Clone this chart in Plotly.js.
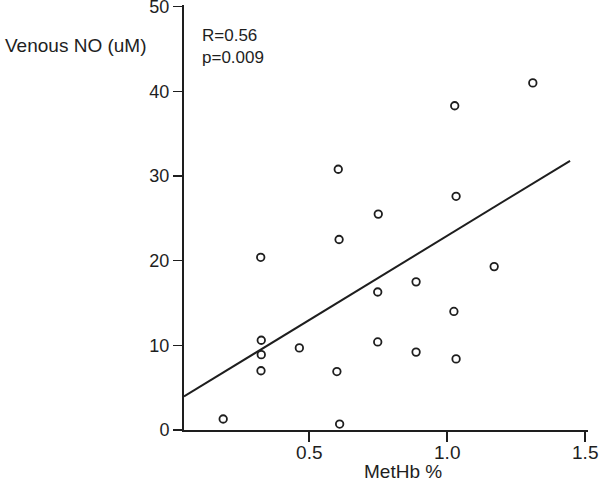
<!DOCTYPE html>
<html>
<head>
<meta charset="utf-8">
<script src="https://cdn.plot.ly/plotly-3.0.1.min.js"></script>
<style>html,body{margin:0;padding:0;background:#fff;}#chart{width:601px;height:483px;}</style>
</head>
<body>
<div id="chart"></div>
<script>
// MetHb % (x) and Venous NO (uM) (y)
var methb = [0.605, 1.032, 0.750, 0.608, 0.324, 0.887, 0.748, 1.024, 0.326, 0.748, 0.464,
             0.326, 0.887, 1.032, 0.325, 0.600, 0.188, 0.610, 1.310, 1.027, 1.170];
var venousNO = [30.8, 27.6, 25.5, 22.5, 20.4, 17.5, 16.3, 14.0, 10.6, 10.4, 9.7,
                8.9, 9.2, 8.4, 7.0, 6.9, 1.3, 0.7, 41.0, 38.3, 19.3];
// regression line end points
var fitX = [0.046, 1.445];
var fitY = [3.96, 31.8];
var xTicks = [0.5, 1.0, 1.5];
var xTickText = ['0.5', '1.0', '1.5'];
var yTicks = [0, 10, 20, 30, 40, 50];
var statsText = ['R=0.56', 'p=0.009'];

var ink = '#1e1e1e';
var font = 'Liberation Sans, Arial, sans-serif';

var traces = [
  {x: fitX, y: fitY, mode: 'lines', type: 'scatter', line: {color: ink, width: 2}, hoverinfo: 'skip'},
  {x: methb, y: venousNO, mode: 'markers', type: 'scatter',
   marker: {symbol: 'circle-open', size: 7.5, color: ink, line: {color: ink, width: 1.8}}}
];

var topM = 5.3, botM = 52.5;
var plotH = 483 - topM - botM;
function py(pix) { return 1 - (pix - topM) / plotH; }

var layout = {
  width: 601, height: 483,
  margin: {l: 184, r: 13, t: topM, b: botM},
  paper_bgcolor: '#fff', plot_bgcolor: '#fff',
  showlegend: false,
  font: {family: font, size: 18, color: ink},
  xaxis: {
    range: [0.046, 1.51], tickvals: xTicks, ticktext: xTickText,
    ticks: 'outside', ticklen: 10, tickwidth: 1.6, tickcolor: ink,
    ticklabelstandoff: -6, ticklabeloverflow: 'allow',
    showline: true, linecolor: ink, linewidth: 2, showgrid: false, zeroline: false,
    tickfont: {size: 19, family: font, color: ink}
  },
  yaxis: {
    range: [0, 50.2], tickvals: yTicks,
    ticks: 'outside', ticklen: 9, tickwidth: 1.6, tickcolor: ink,
    ticklabeloverflow: 'allow',
    showline: true, linecolor: ink, linewidth: 2, showgrid: false, zeroline: false,
    tickfont: {size: 18, family: font, color: ink}
  },
  annotations: [
    {text: 'Venous NO (uM)', xref: 'paper', yref: 'paper', x: -181/404, xanchor: 'left',
     y: py(46), yanchor: 'middle', showarrow: false, font: {size: 19, family: font, color: ink}},
    {text: 'MetHb %', xref: 'x', yref: 'paper', x: 0.84, xanchor: 'center',
     y: py(472), yanchor: 'middle', showarrow: false, font: {size: 19, family: font, color: ink}},
    {text: statsText.join('<br>'), xref: 'paper', yref: 'paper', x: 16 / 404, xanchor: 'left', align: 'left',
     y: py(24), yanchor: 'top', showarrow: false, font: {size: 17, family: font, color: ink}}
  ]
};

Plotly.newPlot('chart', traces, layout, {displayModeBar: false, staticPlot: true});
</script>
</body>
</html>
